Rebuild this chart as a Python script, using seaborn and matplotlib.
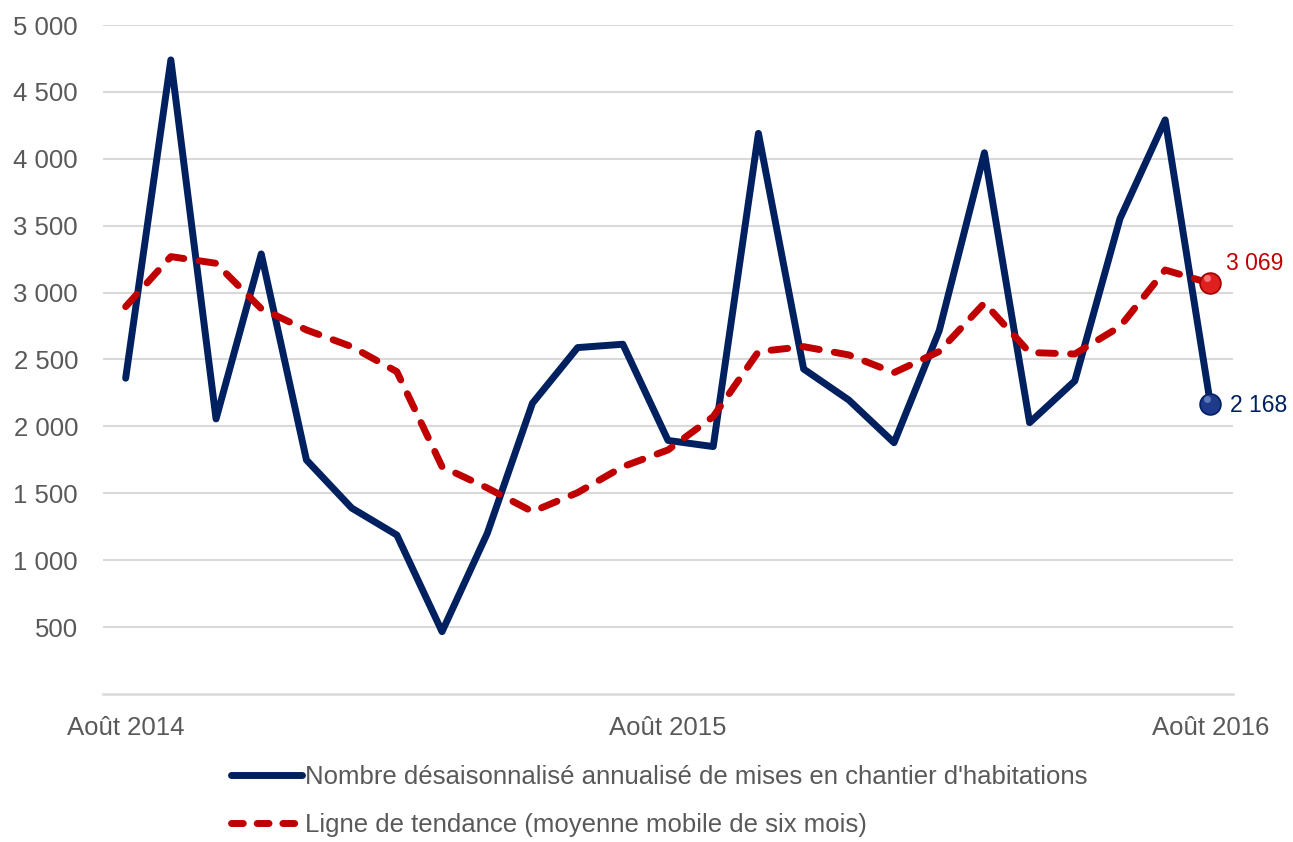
import pandas as pd
import seaborn as sns
import matplotlib.pyplot as plt

# mises en chantier, aout 2014 -> aout 2016 (mensuel)
mois = ['Août 2014', 'Sep 2014', 'Oct 2014', 'Nov 2014', 'Déc 2014',
        'Jan 2015', 'Fév 2015', 'Mar 2015', 'Avr 2015', 'Mai 2015', 'Juin 2015', 'Juil 2015',
        'Août 2015', 'Sep 2015', 'Oct 2015', 'Nov 2015', 'Déc 2015',
        'Jan 2016', 'Fév 2016', 'Mar 2016', 'Avr 2016', 'Mai 2016', 'Juin 2016', 'Juil 2016',
        'Août 2016']
mises_en_chantier = [2360, 4739, 2056, 3289, 1749, 1390, 1188, 466, 1200, 2173, 2589, 2614,
                     1895, 1849, 4190, 2429, 2197, 1878, 2715, 4045, 2028, 2340, 3553, 4291,
                     2168]
tendance = [2895, 3269, 3219, 2880, 2721, 2596, 2409, 1699, 1540, 1363, 1505, 1699,
            1824, 2073, 2559, 2596, 2534, 2402, 2560, 2922, 2552, 2541, 2746, 3169,
            3069]
mois_affiches = ['Août 2014', 'Août 2015', 'Août 2016']
yticks = [500, 1000, 1500, 2000, 2500, 3000, 3500, 4000, 4500, 5000]

lbl_serie = "Nombre désaisonnalisé annualisé de mises en chantier d'habitations"
lbl_tend = 'Ligne de tendance (moyenne mobile de six mois)'

BLEU = '#002060'
ROUGE = '#C00000'
GRIS = '#595959'
FS = 18.5

df = pd.DataFrame({'pos': list(range(len(mois))) * 2,
                   'valeur': mises_en_chantier + tendance,
                   'serie': [lbl_serie] * len(mois) + [lbl_tend] * len(mois)})

sns.set_theme(style='white')
plt.rcParams['font.family'] = ['Liberation Sans', 'DejaVu Sans']

fig = plt.figure(figsize=(12.93, 8.42), dpi=100)
ax = fig.add_axes([0.0797, 0.1758, 0.8739, 0.7945])

sns.lineplot(data=df, x='pos', y='valeur', hue='serie', style='serie',
             palette={lbl_serie: BLEU, lbl_tend: ROUGE},
             dashes={lbl_serie: '', lbl_tend: (2.4, 2.2)},
             linewidth=5, ax=ax, legend=False, zorder=3)
for ln in ax.get_lines():
    ln.set_solid_capstyle('round')
    ln.set_dash_capstyle('round')
    ln.set_solid_joinstyle('round')
    ln.set_dash_joinstyle('round')

# points finaux
fin = len(mois) - 1
ax.plot(fin, mises_en_chantier[-1], 'o', ms=15, color='#1F3A8A', mec=BLEU, mew=1.2, zorder=5)
ax.plot(fin - 0.07, mises_en_chantier[-1] + 40, 'o', ms=5, color='#6F86C9', mew=0, alpha=0.8, zorder=6)
ax.plot(fin, tendance[-1], 'o', ms=15, color='#E01F1F', mec='#A00000', mew=1.2, zorder=5)
ax.plot(fin - 0.07, tendance[-1] + 40, 'o', ms=5, color='#FF8A8A', mew=0, alpha=0.8, zorder=6)

def fr(v):
    return f'{v:,}'.replace(',', ' ')

ax.annotate(fr(mises_en_chantier[-1]), (fin, mises_en_chantier[-1]), xytext=(14, -1),
            textcoords='offset points', color=BLEU, fontsize=16.5, va='center', ha='left')
ax.annotate(fr(tendance[-1]), (fin, tendance[-1]), xytext=(11, 14),
            textcoords='offset points', color=ROUGE, fontsize=16.5, va='center', ha='left')

ax.set_xlim(-0.5, len(mois) - 0.5)
ax.set_ylim(0, 5000)
ax.set_yticks(yticks)
ax.set_yticklabels([fr(v) for v in yticks], color=GRIS, fontsize=FS)
ax.set_xticks([mois.index(m) for m in mois_affiches])
ax.set_xticklabels(mois_affiches, color=GRIS, fontsize=FS)
ax.tick_params(axis='both', length=0)
ax.tick_params(axis='x', pad=16)
ax.tick_params(axis='y', pad=18)
ax.set_xlabel('')
ax.set_ylabel('')

ax.grid(axis='y', color='#D9D9D9', linewidth=1.5, zorder=0)
for s in ['top', 'right', 'left']:
    ax.spines[s].set_visible(False)
ax.spines['bottom'].set_color('#D9D9D9')
ax.spines['bottom'].set_linewidth(1.8)

handles = [plt.Line2D([], [], color=BLEU, lw=5, solid_capstyle='round'),
           plt.Line2D([], [], color=ROUGE, lw=5, dashes=(1.7, 2.0), dash_capstyle='round')]
leg = fig.legend(handles, [lbl_serie, lbl_tend], loc='upper left',
                 bbox_to_anchor=(0.171, 0.104), frameon=False, fontsize=FS,
                 handlelength=2.75, handletextpad=0.1, labelspacing=0.95, borderaxespad=0)
for t in leg.get_texts():
    t.set_color(GRIS)

fig.savefig('out.png', dpi=100)
